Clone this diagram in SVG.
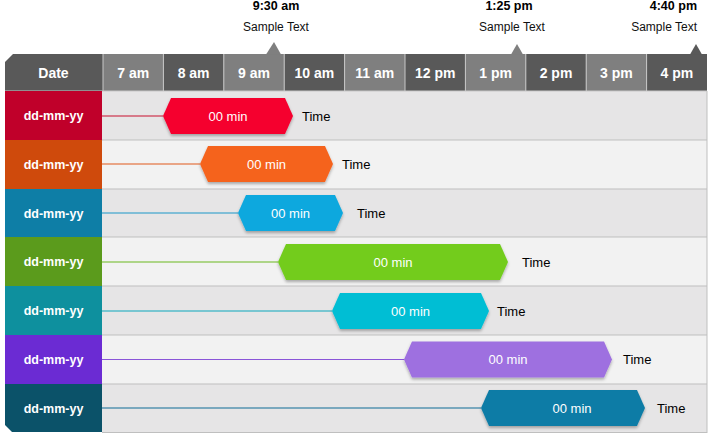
<svg xmlns="http://www.w3.org/2000/svg" width="714" height="442" viewBox="0 0 714 442">
<defs>
<style>
.hd{font-family:"Liberation Sans",Arial,sans-serif;font-weight:bold;font-size:14px;fill:#fff;text-anchor:middle}
.lb{font-family:"Liberation Sans",Arial,sans-serif;font-weight:bold;font-size:12.5px;fill:#fff;text-anchor:middle}
.bt{font-family:"Liberation Sans",Arial,sans-serif;font-size:13px;fill:#fff;text-anchor:middle}
.tm{font-family:"Liberation Sans",Arial,sans-serif;font-size:13px;fill:#000}
.mk{font-family:"Liberation Sans",Arial,sans-serif;font-weight:bold;font-size:12.5px;fill:#000}
.st{font-family:"Liberation Sans",Arial,sans-serif;font-size:12px;fill:#111}
.dk{fill:#595959}
.lt{fill:#7f7f7f}
.sep{stroke:#bfbfbf;stroke-width:1}
.vs{stroke:#c8c8c8;stroke-width:1}
.bar{filter:url(#sh)}
</style>
<filter id="sh" x="-10%" y="-20%" width="120%" height="150%">
<feDropShadow dx="0" dy="2" stdDeviation="1.5" flood-color="#000" flood-opacity="0.3"/>
</filter>
</defs>

<!-- row backgrounds -->
<g id="grid">
<rect x="102" y="91" width="605" height="49" fill="#e6e5e6"/>
<rect x="102" y="140" width="605" height="49" fill="#f2f2f2"/>
<rect x="102" y="189" width="605" height="48" fill="#e6e5e6"/>
<rect x="102" y="237" width="605" height="49" fill="#f2f2f2"/>
<rect x="102" y="286" width="605" height="49" fill="#e6e5e6"/>
<rect x="102" y="335" width="605" height="49" fill="#f2f2f2"/>
<rect x="102" y="384" width="605" height="48" fill="#e6e5e6"/>
<line class="sep" x1="102" y1="140" x2="707" y2="140"/>
<line class="sep" x1="102" y1="189" x2="707" y2="189"/>
<line class="sep" x1="102" y1="237" x2="707" y2="237"/>
<line class="sep" x1="102" y1="286" x2="707" y2="286"/>
<line class="sep" x1="102" y1="335" x2="707" y2="335"/>
<line class="sep" x1="102" y1="384" x2="707" y2="384"/>
<line class="sep" x1="102" y1="432.5" x2="707" y2="432.5"/>
<line class="sep" x1="707" y1="91" x2="707" y2="433"/>
</g>

<!-- header -->
<g id="header">
<path class="dk" d="M13,54 H103 V91 H5 V62 Z"/>
<text class="hd" x="53.5" y="77.5">Date</text>
<rect class="lt" x="103" y="54" width="60.4" height="37"/>
<rect class="dk" x="163.4" y="54" width="60.4" height="37"/>
<rect class="lt" x="223.8" y="54" width="60.4" height="37"/>
<rect class="dk" x="284.2" y="54" width="60.4" height="37"/>
<rect class="lt" x="344.6" y="54" width="60.4" height="37"/>
<rect class="dk" x="405" y="54" width="60.4" height="37"/>
<rect class="lt" x="465.4" y="54" width="60.4" height="37"/>
<rect class="dk" x="525.8" y="54" width="60.4" height="37"/>
<rect class="lt" x="586.2" y="54" width="60.4" height="37"/>
<rect class="dk" x="646.6" y="54" width="60.4" height="37"/>
<g>
<line class="vs" x1="103" y1="54" x2="103" y2="91"/>
<line class="vs" x1="163.4" y1="54" x2="163.4" y2="91"/>
<line class="vs" x1="223.8" y1="54" x2="223.8" y2="91"/>
<line class="vs" x1="284.2" y1="54" x2="284.2" y2="91"/>
<line class="vs" x1="344.6" y1="54" x2="344.6" y2="91"/>
<line class="vs" x1="405" y1="54" x2="405" y2="91"/>
<line class="vs" x1="465.4" y1="54" x2="465.4" y2="91"/>
<line class="vs" x1="525.8" y1="54" x2="525.8" y2="91"/>
<line class="vs" x1="586.2" y1="54" x2="586.2" y2="91"/>
<line class="vs" x1="646.6" y1="54" x2="646.6" y2="91"/>
<line class="vs" x1="5" y1="91" x2="707" y2="91"/>
</g>
<text class="hd" x="133.2" y="77.5">7 am</text>
<text class="hd" x="193.6" y="77.5">8 am</text>
<text class="hd" x="254" y="77.5">9 am</text>
<text class="hd" x="314.4" y="77.5">10 am</text>
<text class="hd" x="374.8" y="77.5">11 am</text>
<text class="hd" x="435.2" y="77.5">12 pm</text>
<text class="hd" x="495.6" y="77.5">1 pm</text>
<text class="hd" x="556" y="77.5">2 pm</text>
<text class="hd" x="616.4" y="77.5">3 pm</text>
<text class="hd" x="676.8" y="77.5">4 pm</text>
</g>

<!-- time markers -->
<g id="marker1">
<polygon class="lt" points="266,54.5 274,42 281,54.5"/>
<text class="mk" x="276" y="10" text-anchor="middle">9:30 am</text>
<text class="st" x="276" y="31" text-anchor="middle">Sample Text</text>
</g>
<g id="marker2">
<polygon class="lt" points="511,54.5 517,44 523,54.5"/>
<text class="mk" x="509" y="10" text-anchor="middle">1:25 pm</text>
<text class="st" x="512" y="31" text-anchor="middle">Sample Text</text>
</g>
<g id="marker3">
<polygon class="dk" points="690,54.5 696,44 702,54.5"/>
<text class="mk" x="697" y="10" text-anchor="end">4:40 pm</text>
<text class="st" x="697" y="31" text-anchor="end">Sample Text</text>
</g>

<!-- date labels -->
<g id="label1"><rect x="5" y="91" width="97" height="49" fill="#c0002a"/><text class="lb" x="53.5" y="120">dd-mm-yy</text></g>
<g id="label2"><rect x="5" y="140" width="97" height="49" fill="#cf4a0c"/><text class="lb" x="53.5" y="169">dd-mm-yy</text></g>
<g id="label3"><rect x="5" y="189" width="97" height="48" fill="#0e7ea6"/><text class="lb" x="53.5" y="217.5">dd-mm-yy</text></g>
<g id="label4"><rect x="5" y="237" width="97" height="49" fill="#5b9b1c"/><text class="lb" x="53.5" y="266">dd-mm-yy</text></g>
<g id="label5"><rect x="5" y="286" width="97" height="49" fill="#0e909e"/><text class="lb" x="53.5" y="315">dd-mm-yy</text></g>
<g id="label6"><rect x="5" y="335" width="97" height="49" fill="#6b2bd3"/><text class="lb" x="53.5" y="364">dd-mm-yy</text></g>
<g id="label7"><path d="M5,384 H102 V432 H12 L5,425 Z" fill="#0b5269"/><text class="lb" x="53.5" y="412.5">dd-mm-yy</text></g>

<!-- connectors -->
<g id="connectors" stroke-width="1.2">
<line x1="102" y1="116" x2="163" y2="116" stroke="#c8102e"/>
<line x1="102" y1="164" x2="200" y2="164" stroke="#e0581a"/>
<line x1="102" y1="213" x2="238" y2="213" stroke="#1a98c8"/>
<line x1="102" y1="262" x2="278" y2="262" stroke="#6ab81e"/>
<line x1="102" y1="311" x2="332" y2="311" stroke="#0aa8bc"/>
<line x1="102" y1="359.5" x2="404" y2="359.5" stroke="#8a55d8"/>
<line x1="102" y1="408" x2="481" y2="408" stroke="#0e6d96"/>
</g>

<!-- bars -->
<g id="bar1"><polygon class="bar" points="163,116 171,98 285,98 293,116 285,134 171,134" fill="#f5002f"/><text class="bt" x="228" y="120.5">00 min</text><text class="tm" x="302" y="120.5">Time</text></g>
<g id="bar2"><polygon class="bar" points="200,164 208,146 325,146 333,164 325,182 208,182" fill="#f5631f"/><text class="bt" x="266.5" y="168.5">00 min</text><text class="tm" x="342" y="168.5">Time</text></g>
<g id="bar3"><polygon class="bar" points="238,213 246,195 335,195 343,213 335,231 246,231" fill="#0aa8de"/><text class="bt" x="290.5" y="217.5">00 min</text><text class="tm" x="357" y="217.5">Time</text></g>
<g id="bar4"><polygon class="bar" points="278,262 286,244 500,244 508,262 500,280 286,280" fill="#73cc1f"/><text class="bt" x="393" y="266.5">00 min</text><text class="tm" x="522" y="266.5">Time</text></g>
<g id="bar5"><polygon class="bar" points="332,311 340,293 481,293 489,311 481,329 340,329" fill="#00bed4"/><text class="bt" x="410.5" y="315.5">00 min</text><text class="tm" x="497" y="315.5">Time</text></g>
<g id="bar6"><polygon class="bar" points="404,359.5 412,341.5 604,341.5 612,359.5 604,377.5 412,377.5" fill="#9e70e0"/><text class="bt" x="508" y="364">00 min</text><text class="tm" x="623" y="364">Time</text></g>
<g id="bar7"><polygon class="bar" points="481,408 489,390 637,390 645,408 637,426 489,426" fill="#0f7ca6"/><text class="bt" x="572" y="412.5">00 min</text><text class="tm" x="657" y="412.5">Time</text></g>
</svg>
